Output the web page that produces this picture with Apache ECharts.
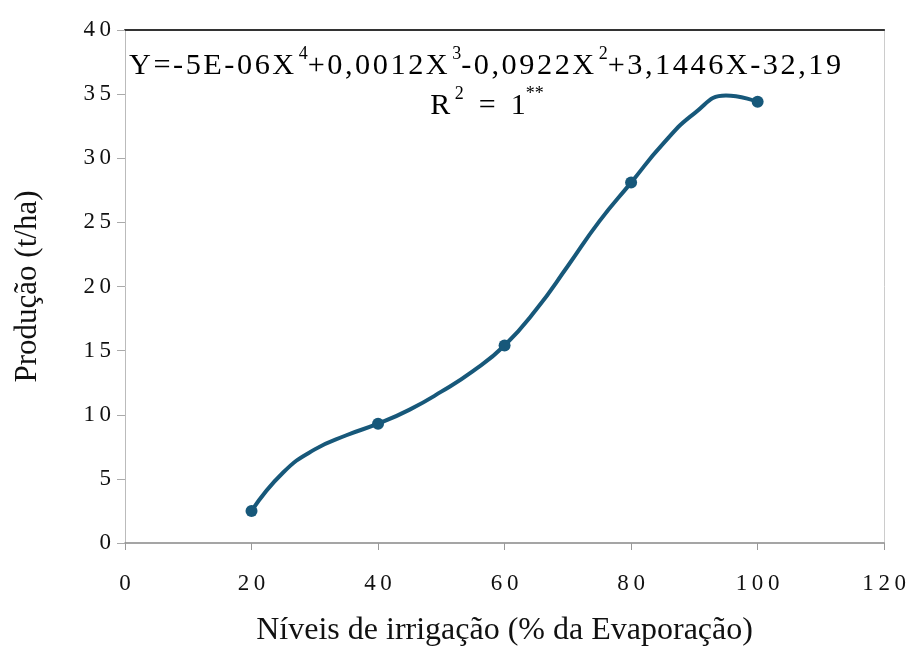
<!DOCTYPE html>
<html>
<head>
<meta charset="utf-8">
<script src="https://cdn.jsdelivr.net/npm/echarts@6/dist/echarts.min.js"></script>
<style>html,body{margin:0;padding:0;background:#fff;}#c{width:909px;height:664px;}</style>
</head>
<body>
<div id="c"></div>
<script>
// Observed points
var pointX = [20, 40, 60, 80, 100];
var pointY = [2.5, 9.3, 15.4, 28.1, 34.4];
// Fitted curve
var curveX = [20, 25, 30, 35, 40, 45, 50, 55, 60, 65, 70, 75, 80, 85, 90, 95, 100];
var curveY = [2.5, 5.5, 7.3, 8.4, 9.3, 10.4, 11.8, 13.4, 15.4, 18.2, 21.6, 25.1, 28.1, 31.1, 33.5, 34.9, 34.4];
var xTitle = 'Níveis de irrigação (% da Evaporação)';
var yTitle = 'Produção (t/ha)';

var FONT = "'Liberation Serif','Times New Roman',serif";
var COLOR = '#17587a';
function spaced(s, sp) { return String(s).split('').join(sp); }
var HS = '\u200A';
var eqText = '{b|' + spaced('Y=-5E-06X', HS) + '}{s| 4}{b|' + spaced('+0,0012X', HS) + '}{s| 3}{b|' +
  spaced('-0,0922X', HS) + '}{s| 2}{b|' + spaced('+3,1446X-32,19', HS) + '}';
var r2Text = '{b|R}{s| 2}{b|  =  1}{s|**}';

var chart = echarts.init(document.getElementById('c'), null, {renderer: 'canvas'});
var tickLabel = function (v) { return spaced(v, '\u2009'); };
chart.setOption({
  animation: false,
  backgroundColor: '#fff',
  grid: {left: 125, right: 24, top: 30, bottom: 121, containLabel: false},
  xAxis: [{
    type: 'value', min: 0, max: 120, interval: 20, position: 'bottom',
    name: xTitle, nameLocation: 'middle', nameGap: 72,
    nameTextStyle: {fontFamily: FONT, fontSize: 32, color: '#111'},
    axisLine: {show: true, onZero: false, lineStyle: {color: '#888', width: 1.5}},
    axisTick: {show: true, inside: false, length: 7, lineStyle: {color: '#999'}},
    axisLabel: {margin: 29, fontFamily: FONT, fontSize: 23, color: '#111', formatter: tickLabel},
    splitLine: {show: false}
  }, {
    type: 'value', min: 0, max: 120, interval: 20, position: 'top',
    axisLine: {show: true, onZero: false, lineStyle: {color: '#333', width: 2}},
    axisTick: {show: false}, axisLabel: {show: false}, splitLine: {show: false}
  }],
  yAxis: [{
    type: 'value', min: 0, max: 40, interval: 5, position: 'left',
    name: yTitle, nameLocation: 'middle', nameGap: 82,
    nameTextStyle: {fontFamily: FONT, fontSize: 31, color: '#111'},
    axisLine: {show: true, onZero: false, lineStyle: {color: '#bbb', width: 1}},
    axisTick: {show: true, inside: false, length: 8, lineStyle: {color: '#aaa'}},
    axisLabel: {margin: 14, fontFamily: FONT, fontSize: 23, color: '#111', formatter: tickLabel},
    splitLine: {show: false}
  }, {
    type: 'value', min: 0, max: 40, interval: 5, position: 'right',
    axisLine: {show: true, onZero: false, lineStyle: {color: '#ccc', width: 1}},
    axisTick: {show: false}, axisLabel: {show: false}, splitLine: {show: false}
  }],
  series: [{
    type: 'line', name: 'curve',
    data: curveX.map(function (x, i) { return [x, curveY[i]]; }),
    smooth: 0.5, showSymbol: false, symbol: 'none',
    lineStyle: {color: COLOR, width: 4}, z: 2
  }, {
    type: 'scatter', name: 'points',
    data: pointX.map(function (x, i) { return [x, pointY[i]]; }),
    symbol: 'circle', symbolSize: 12,
    itemStyle: {color: COLOR, opacity: 1}, z: 3
  }],
  graphic: [{
    type: 'text', x: 129, y: 63,
    style: {
      text: eqText, align: 'left', verticalAlign: 'middle',
      rich: {
        b: {fontFamily: FONT, fontSize: 30.3, color: '#111', lineHeight: 36, verticalAlign: 'bottom'},
        s: {fontFamily: FONT, fontSize: 18, color: '#111', lineHeight: 18, verticalAlign: 'top'}
      }
    }
  }, {
    type: 'text', x: 487, y: 103,
    style: {
      text: r2Text, align: 'center', verticalAlign: 'middle',
      rich: {
        b: {fontFamily: FONT, fontSize: 30, color: '#111', lineHeight: 36, verticalAlign: 'bottom'},
        s: {fontFamily: FONT, fontSize: 18, color: '#111', lineHeight: 18, verticalAlign: 'top'}
      }
    }
  }]
});
</script>
</body>
</html>
